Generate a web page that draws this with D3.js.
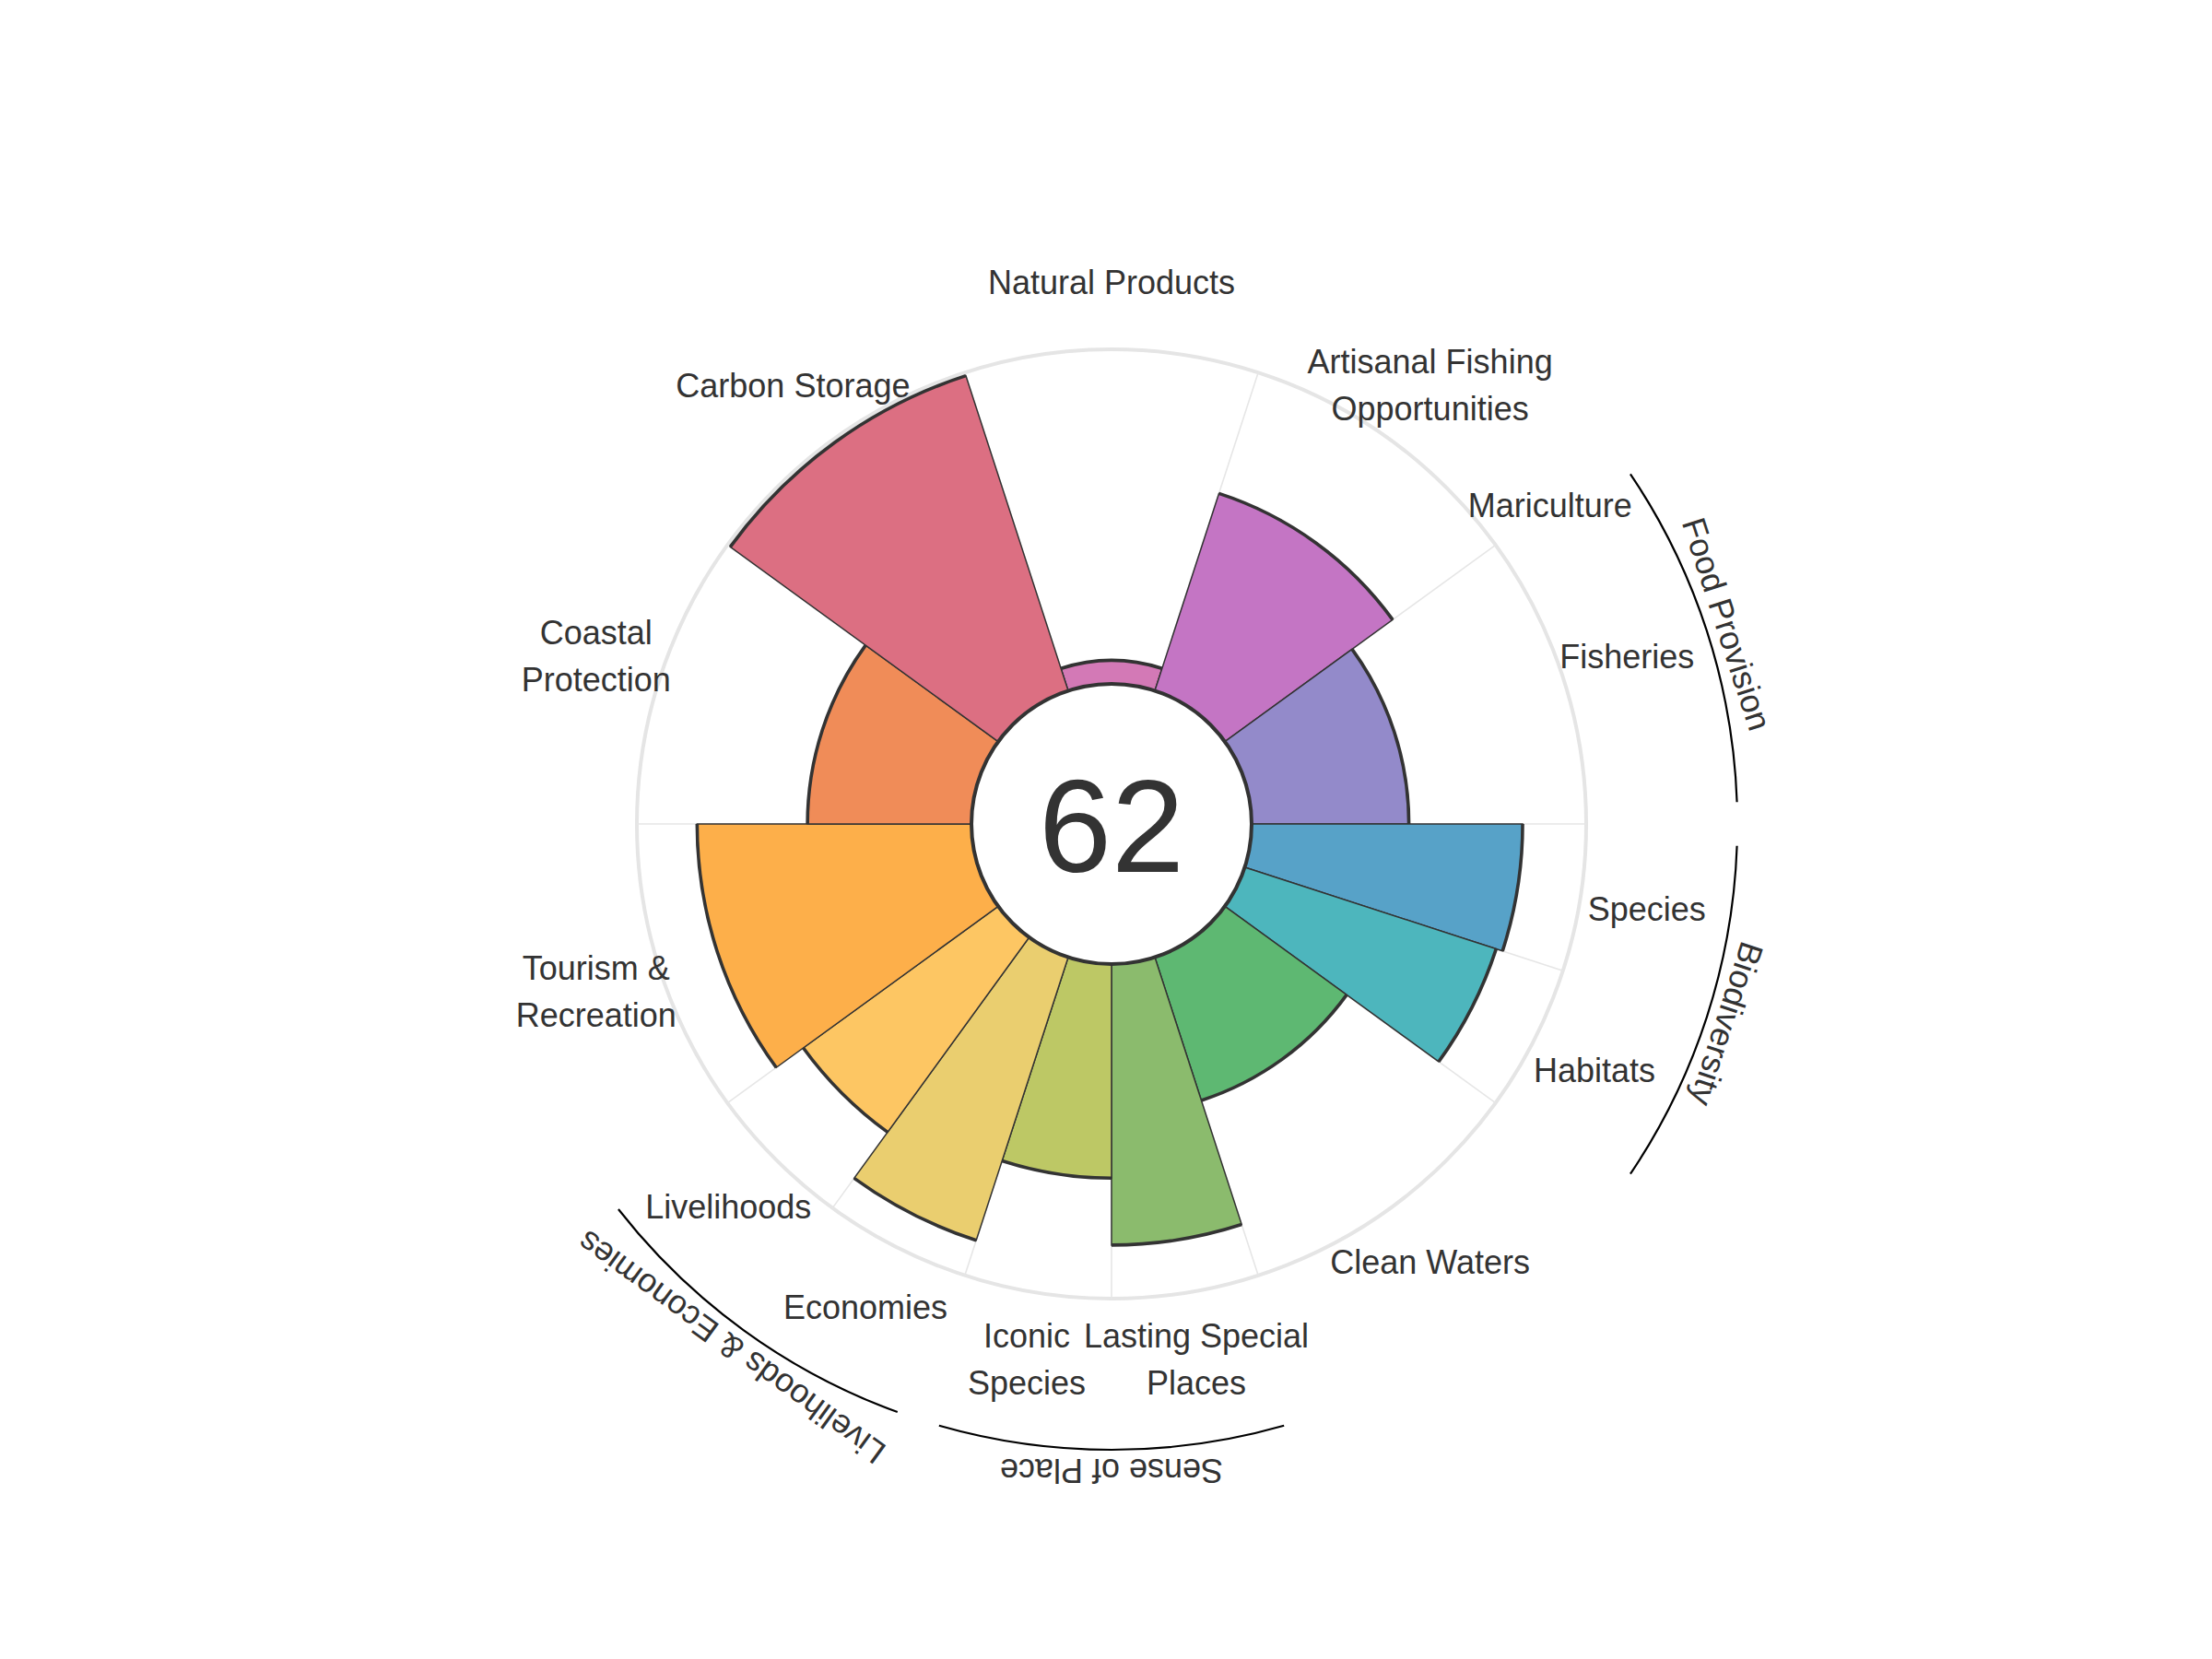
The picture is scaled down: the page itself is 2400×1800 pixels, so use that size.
<!DOCTYPE html>
<html>
<head>
<meta charset="utf-8">
<script src="https://cdn.jsdelivr.net/npm/d3@7"></script>
<style>
  html, body { margin: 0; padding: 0; background: #ffffff; }
  svg { display: block; }
</style>
</head>
<body>
<svg id="chart" width="2400" height="1800"></svg>
<script>
// ---------- data ----------
const goals = ["Natural Products", "Artisanal Fishing Opportunities", "Mariculture", "Fisheries",
  "Species", "Habitats", "Clean Waters", "Lasting Special Places", "Iconic Species",
  "Economies", "Livelihoods", "Tourism & Recreation", "Coastal Protection", "Carbon Storage"];
const goalLabelLines = [["Natural Products"], ["Artisanal Fishing", "Opportunities"], ["Mariculture"], ["Fisheries"],
  ["Species"], ["Habitats"], ["Clean Waters"], ["Lasting Special", "Places"], ["Iconic", "Species"],
  ["Economies"], ["Livelihoods"], ["Tourism &", "Recreation"], ["Coastal", "Protection"], ["Carbon Storage"]];
const goalWeights = [1, 1, 0, 1, 0.5, 0.5, 1, 0.5, 0.5, 0.5, 0.5, 1, 1, 1];
const goalScores = [7, 62, 0, 47, 81, 79, 45, 84, 64, 89, 72, 82, 49, 99];
const goalColors = ["#D379B6", "#C475C4", "#A57FC6", "#938ACA", "#57A2C8", "#4DB6BD", "#5EB872",
  "#8BBB6D", "#BDC865", "#EACE6F", "#FDC663", "#FDAF4A", "#F08C58", "#DC6F82"];
const groupNames = ["Food Provision", "Biodiversity", "Sense of Place", "Livelihoods & Economies"];
const groupFirst = ["Mariculture", "Species", "Lasting Special Places", "Economies"];
const groupLast = ["Fisheries", "Habitats", "Iconic Species", "Livelihoods"];
const overallScore = 62;

// ---------- layout ----------
const cx = 1206, cy = 894;
const r0 = 152, R = 515;
const labelR = 588, groupArcR = 679, groupTextR = 702;
const font = "'Liberation Sans', Arial, Helvetica, sans-serif";
const labelSize = 36;

const svg = d3.select("#chart");
const g = svg.append("g").attr("transform", `translate(${cx},${cy})`);

const totalW = d3.sum(goalWeights);
const angle = d3.scaleLinear().domain([0, totalW]).range([0, 2 * Math.PI]);
const radius = d3.scaleLinear().domain([0, 100]).range([r0, R]);

// cumulative boundaries: first petal centred at 12 o'clock
let acc = -goalWeights[0] / 2;
const items = goals.map((name, i) => {
  const a0 = angle(acc);
  acc += goalWeights[i];
  const a1 = angle(acc);
  return { name, i, a0, a1, mid: (a0 + a1) / 2, w: goalWeights[i], score: goalScores[i], color: goalColors[i], lines: goalLabelLines[i] };
});
const byName = Object.fromEntries(items.map(d => [d.name, d]));

// outer grid circle
g.append("circle").attr("r", R).attr("fill", "none").attr("stroke", "#E5E5E5").attr("stroke-width", 4);

// spokes at every boundary
const bounds = Array.from(new Set(items.map(d => +d.a0.toFixed(6))));
g.selectAll("line.spoke").data(bounds).enter().append("line")
  .attr("class", "spoke")
  .attr("x1", a => r0 * Math.sin(a)).attr("y1", a => -r0 * Math.cos(a))
  .attr("x2", a => R * Math.sin(a)).attr("y2", a => -R * Math.cos(a))
  .attr("stroke", "#E6E6E6").attr("stroke-width", 1.6);

// bars
const bars = items.filter(d => d.w > 0);
const arcGen = d3.arc();
g.selectAll("path.bar").data(bars).enter().append("path")
  .attr("class", "bar")
  .attr("d", d => arcGen({ innerRadius: r0, outerRadius: radius(d.score), startAngle: d.a0, endAngle: d.a1 }))
  .attr("fill", d => d.color)
  .attr("stroke", "#333333").attr("stroke-width", 1.5).attr("stroke-linejoin", "miter");

// thick outer arcs
function arcLine(r, a0, a1) {
  const p = d3.path();
  p.arc(0, 0, r, a0 - Math.PI / 2, a1 - Math.PI / 2, false);
  return p.toString();
}
g.selectAll("path.outer").data(bars).enter().append("path")
  .attr("class", "outer")
  .attr("d", d => arcLine(radius(d.score), d.a0, d.a1))
  .attr("fill", "none").attr("stroke", "#333333").attr("stroke-width", 3.6);

// inner circle
g.append("circle").attr("r", r0).attr("fill", "#ffffff").attr("stroke", "#333333").attr("stroke-width", 4);

// center score
g.append("text").text(overallScore)
  .attr("x", 0).attr("y", 0.358 * 142 + 1.5)
  .attr("text-anchor", "middle")
  .attr("font-family", font).attr("font-size", 142).attr("fill", "#333333");

// goal labels
const lineH = 51;
const labels = g.selectAll("text.goal").data(items).enter().append("text")
  .attr("class", "goal")
  .attr("font-family", font).attr("font-size", labelSize).attr("fill", "#333333")
  .attr("text-anchor", "middle")
  .attr("transform", d => `translate(${labelR * Math.sin(d.mid)},${-labelR * Math.cos(d.mid)})`);
labels.each(function (d) {
  const n = d.lines.length;
  d3.select(this).selectAll("tspan").data(d.lines).enter().append("tspan")
    .attr("x", 0)
    .attr("y", (l, k) => (k - (n - 1) / 2) * lineH)
    .attr("dy", "0.35em")
    .text(l => l);
});

// group arcs and labels
const groups = groupNames.map((name, k) => {
  const a0 = byName[groupFirst[k]].a0;
  const a1 = byName[groupLast[k]].a1;
  return { name, a0, a1, mid: (a0 + a1) / 2 };
});
const pad = 2 * Math.PI / 180;
g.selectAll("path.grp").data(groups).enter().append("path")
  .attr("class", "grp")
  .attr("d", d => arcLine(groupArcR, d.a0 + pad, d.a1 - pad))
  .attr("fill", "none").attr("stroke", "#000000").attr("stroke-width", 2.2);
g.selectAll("text.grp").data(groups).enter().append("text")
  .attr("class", "grp")
  .attr("font-family", font).attr("font-size", labelSize).attr("fill", "#333333")
  .attr("text-anchor", "middle").attr("dy", "0.35em")
  .attr("transform", d => {
    const x = groupTextR * Math.sin(d.mid), y = -groupTextR * Math.cos(d.mid);
    return `translate(${x},${y}) rotate(${d.mid * 180 / Math.PI})`;
  })
  .text(d => d.name);
</script>
</body>
</html>
